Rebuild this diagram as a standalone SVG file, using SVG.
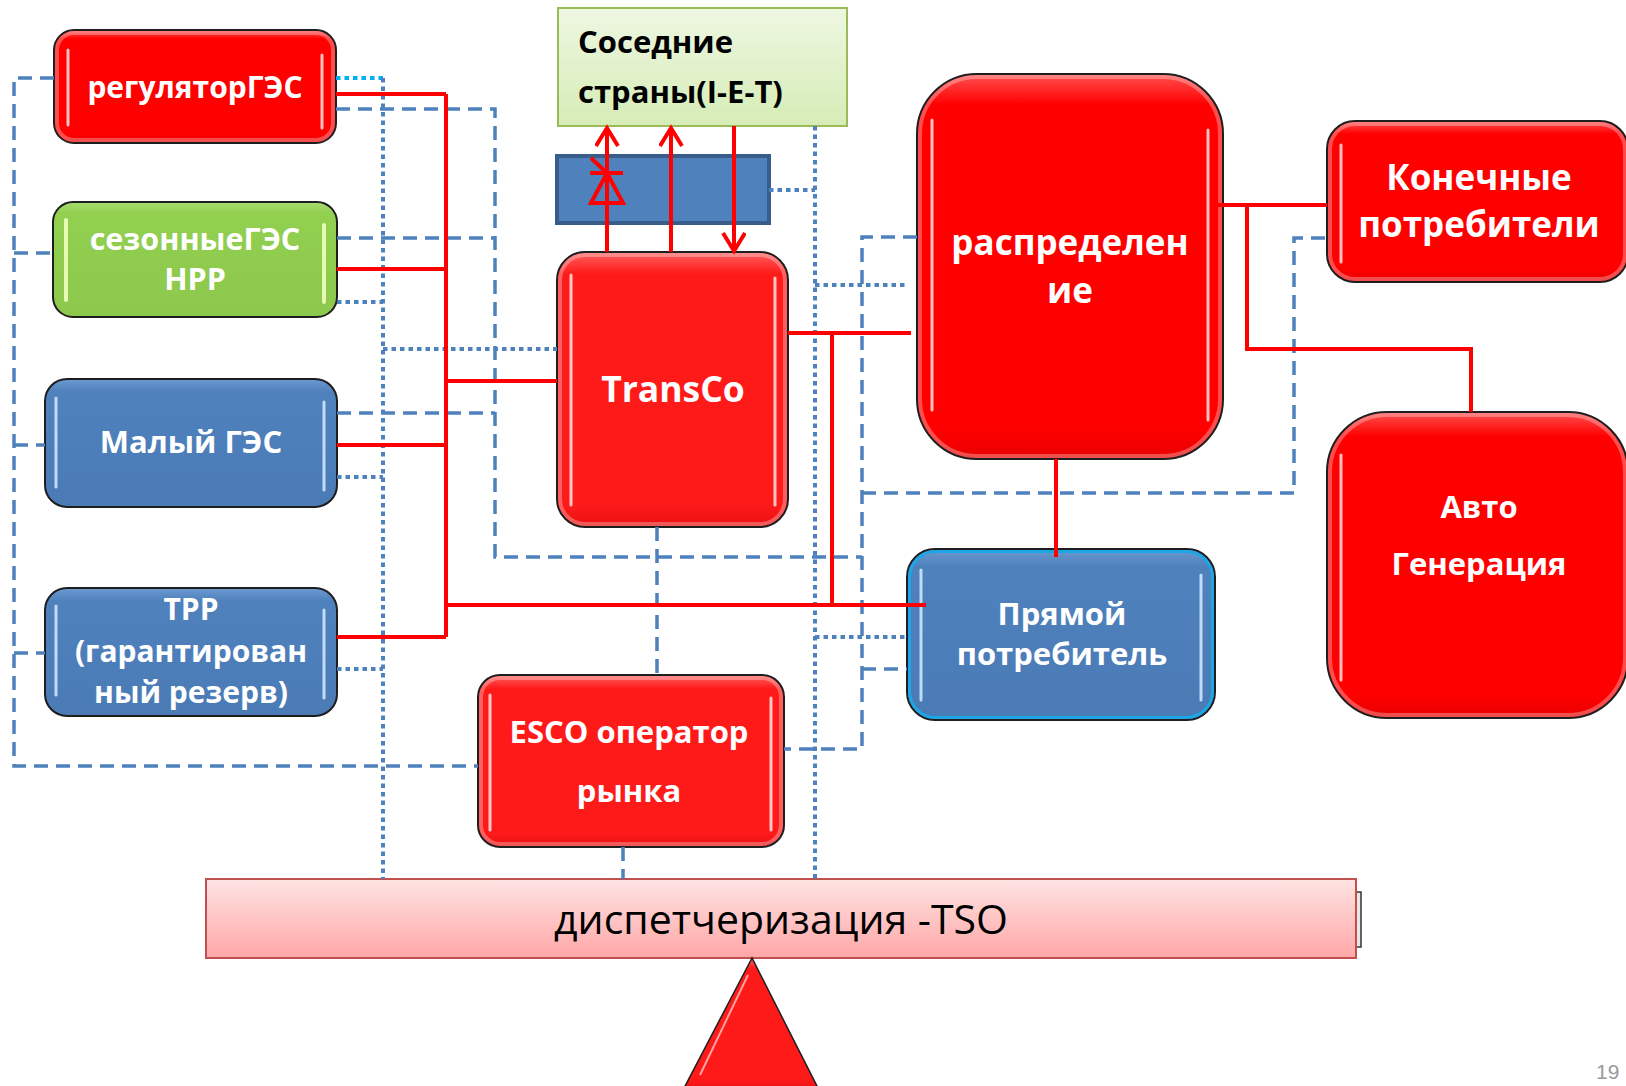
<svg xmlns="http://www.w3.org/2000/svg" width="1626" height="1086" viewBox="0 0 1626 1086">
<defs>
<style>
.box{stroke:#1e1e1e;stroke-width:2}
.red{fill:url(#gRed)}
.red2{fill:url(#gRed2)}
.green{fill:url(#gGreen)}
.blue{fill:url(#gBlue)}
.glow{fill:none;stroke:#fff;stroke-opacity:.3;stroke-width:4}
.hl{stroke:#fff;stroke-opacity:.75;stroke-width:3;stroke-linecap:round}
.hlg{stroke:#EFFFC0;stroke-opacity:.9;stroke-width:4;stroke-linecap:round}
.hlb{stroke:#CDE6FF;stroke-opacity:.9;stroke-width:3;stroke-linecap:round}
.wt{font-family:"Open Sans","Noto Sans",sans-serif;font-weight:700;fill:#fff;text-anchor:middle}
.bk{font-family:"Open Sans","Noto Sans",sans-serif;font-weight:700;fill:#000}
.dash{fill:none;stroke:#4F81BD;stroke-width:3.5;stroke-dasharray:14 8}
.dot{fill:none;stroke:#4F81BD;stroke-width:4;stroke-dasharray:4.5 4}
.rl{fill:none;stroke:#FF0000;stroke-width:4}
</style>
<linearGradient id="gRed" x1="0" y1="0" x2="0" y2="1">
<stop offset="0" stop-color="#FF5050"/><stop offset="0.08" stop-color="#FF0000"/><stop offset="0.92" stop-color="#FF0000"/><stop offset="1" stop-color="#E80000"/>
</linearGradient>
<linearGradient id="gRed2" x1="0" y1="0" x2="0" y2="1">
<stop offset="0" stop-color="#FF6060"/><stop offset="0.08" stop-color="#FF1A1A"/><stop offset="0.92" stop-color="#FF1A1A"/><stop offset="1" stop-color="#E81010"/>
</linearGradient>
<linearGradient id="gGreen" x1="0" y1="0" x2="0" y2="1">
<stop offset="0" stop-color="#A8DC70"/><stop offset="0.1" stop-color="#92D050"/><stop offset="1" stop-color="#8CC84C"/>
</linearGradient>
<linearGradient id="gBlue" x1="0" y1="0" x2="0" y2="1">
<stop offset="0" stop-color="#6D9AD0"/><stop offset="0.1" stop-color="#4F81BD"/><stop offset="1" stop-color="#4A7BB5"/>
</linearGradient>
<linearGradient id="gNb" x1="0" y1="0" x2="0" y2="1">
<stop offset="0" stop-color="#EEF7E2"/><stop offset="1" stop-color="#D6ECB6"/>
</linearGradient>
<linearGradient id="gTso" x1="0" y1="0" x2="0" y2="1">
<stop offset="0" stop-color="#FFE4E4"/><stop offset="1" stop-color="#FFA6A6"/>
</linearGradient>
<marker id="arr" markerUnits="userSpaceOnUse" markerWidth="26" markerHeight="26" refX="21" refY="12" orient="auto">
<path d="M3,1 L21,12 L3,23" fill="none" stroke="#FF0000" stroke-width="4"/>
</marker>
</defs>
<rect width="1626" height="1086" fill="#fff"/>

<g id="node-regulator">
<rect class="box red" x="54" y="30" width="282" height="113" rx="20"/>
<rect class="glow" x="57" y="33" width="276" height="107" rx="17"/>
<line class="hl" x1="68" y1="50" x2="68" y2="125"/><line class="hl" x1="322" y1="55" x2="322" y2="128"/>
<text class="wt" x="195" y="98" font-size="30">регуляторГЭС</text>
</g>
<g id="node-seasonal">
<rect class="box green" x="53" y="202" width="284" height="115" rx="20"/>
<line class="hlg" x1="66" y1="220" x2="66" y2="300"/><line class="hlg" x1="324" y1="225" x2="324" y2="302"/>
<text class="wt" x="195" y="250" font-size="30.5">сезонныеГЭС</text>
<text class="wt" x="195" y="290" font-size="30.5">HPP</text>
</g>
<g id="node-small">
<rect class="box blue" x="45" y="379" width="292" height="128" rx="22"/>
<line class="hlb" x1="56" y1="398" x2="56" y2="487"/><line class="hlb" x1="324" y1="402" x2="324" y2="490"/>
<text class="wt" x="191" y="453" font-size="31">Малый ГЭС</text>
</g>
<g id="node-tpp">
<rect class="box blue" x="45" y="588" width="292" height="128" rx="22"/>
<line class="hlb" x1="56" y1="606" x2="56" y2="695"/><line class="hlb" x1="324" y1="610" x2="324" y2="698"/>
<text class="wt" x="191" y="620" font-size="30">TPP</text>
<text class="wt" x="191" y="662" font-size="30">(гарантирован</text>
<text class="wt" x="191" y="703" font-size="30">ный резерв)</text>
</g>
<g id="node-neighbors">
<rect x="558" y="8" width="289" height="118" fill="url(#gNb)" stroke="#9BBB59" stroke-width="2"/>
<text class="bk" x="578" y="53" font-size="31">Соседние</text>
<text class="bk" x="578" y="103" font-size="31">страны(I-E-T)</text>
</g>
<g id="node-converter">
<rect x="557" y="156" width="212" height="67" fill="#4F81BD" stroke="#385D8A" stroke-width="4"/>
</g>
<g id="node-transco">
<rect class="box red2" x="557" y="252" width="231" height="275" rx="28"/>
<rect class="glow" x="560" y="255" width="225" height="269" rx="25"/>
<line class="hl" x1="571" y1="275" x2="571" y2="505"/><line class="hl" x1="775" y1="278" x2="775" y2="505"/>
<text class="wt" x="673" y="402" font-size="35.5">TransCo</text>
</g>
<g id="node-distribution">
<rect class="box red" x="917" y="74" width="306" height="385" rx="60"/>
<rect class="glow" x="920" y="77" width="300" height="379" rx="57"/>
<line class="hl" x1="932" y1="120" x2="932" y2="410"/><line class="hl" x1="1208" y1="130" x2="1208" y2="420"/>
<text class="wt" x="1070" y="255" font-size="35">распределен</text>
<text class="wt" x="1070" y="303" font-size="35">ие</text>
</g>
<g id="node-endconsumers">
<rect class="box red" x="1327" y="121" width="301" height="161" rx="28"/>
<rect class="glow" x="1330" y="124" width="295" height="155" rx="25"/>
<line class="hl" x1="1341" y1="145" x2="1341" y2="262"/>
<text class="wt" x="1479" y="190" font-size="35">Конечные</text>
<text class="wt" x="1479" y="237" font-size="35">потребители</text>
</g>
<g id="node-autogen">
<rect class="box red" x="1327" y="412" width="301" height="306" rx="60"/>
<rect class="glow" x="1330" y="415" width="295" height="300" rx="57"/>
<line class="hl" x1="1341" y1="455" x2="1341" y2="680"/>
<text class="wt" x="1479" y="518" font-size="31">Авто</text>
<text class="wt" x="1479" y="575" font-size="31">Генерация</text>
</g>
<g id="node-direct">
<rect x="907" y="549" width="308" height="171" rx="28" fill="url(#gBlue)" stroke="#1e1e1e" stroke-width="2"/>
<rect x="909.5" y="551.5" width="303" height="166" rx="26" fill="none" stroke="#1EA5E6" stroke-width="3"/>
<line class="hlb" x1="921" y1="570" x2="921" y2="700"/><line class="hlb" x1="1201" y1="575" x2="1201" y2="700"/>
<text class="wt" x="1062" y="625" font-size="31">Прямой</text>
<text class="wt" x="1062" y="665" font-size="31">потребитель</text>
</g>
<g id="node-esco">
<rect class="box red2" x="478" y="675" width="306" height="172" rx="22"/>
<rect class="glow" x="481" y="678" width="300" height="166" rx="19"/>
<line class="hl" x1="490" y1="695" x2="490" y2="830"/><line class="hl" x1="771" y1="698" x2="771" y2="830"/>
<text class="wt" x="629" y="743" font-size="31">ESCO оператор</text>
<text class="wt" x="629" y="802" font-size="31">рынка</text>
</g>
<g id="node-tso">
<rect x="1356" y="892" width="5" height="55" fill="#e8e8e8" stroke="#333" stroke-width="1.5"/>
<rect x="206" y="879" width="1150" height="79" fill="url(#gTso)" stroke="#C0504D" stroke-width="2"/>
<text x="781" y="934" font-family="'Open Sans','Noto Sans',sans-serif" font-size="41" fill="#000" text-anchor="middle">диспетчеризация -TSO</text>
</g>
<g id="node-triangle">
<polygon points="752,958 683,1090 819,1090" fill="url(#gRed2)" stroke="#1e1e1e" stroke-width="1.5"/>
<line x1="748" y1="975" x2="700" y2="1075" stroke="#fff" stroke-opacity=".6" stroke-width="2"/>
</g>
<text x="1596" y="1079" font-family="'Liberation Sans',sans-serif" font-size="21" fill="#999">19</text>

<g id="connectors">
<path class="dash" d="M54,78 H14 V766 H478"/>
<path class="dash" d="M14,253 H53 M14,445 H45 M14,653 H45"/>
<path class="dash" d="M336,109 H495 V557 H862"/>
<path class="dash" d="M337,238 H495 M337,413 H495"/>
<path class="dash" d="M917,237 H862 V749 H784"/>
<path class="dash" d="M862,493 H1294 V238 H1327"/>
<path class="dash" d="M862,669 H907"/>
<path class="dash" d="M657,527 V675"/>
<path class="dash" d="M623,847 V879"/>
<path class="dot" d="M336,78 H383" style="stroke:#00B0F0"/>
<path class="dot" d="M383,78 V879"/>
<path class="dot" d="M337,302 H383 M337,477 H383 M337,669 H383 M383,349 H557"/>
<path class="dot" d="M815,126 V879"/>
<path class="dot" d="M769,190 H815 M815,285 H905 M815,637 H907"/>
<path class="rl" d="M446,94 V637"/>
<path class="rl" d="M336,94 H446 M337,269 H446 M337,445 H446 M337,637 H446 M446,381 H557 M446,605 H926"/>
<path class="rl" d="M788,333 H911 M832,333 V605"/>
<path class="rl" d="M1215,205 H1327 M1247,205 V349 H1471 V412"/>
<path class="rl" d="M1056,459 V557"/>
<path class="rl" d="M607,252 V128" marker-end="url(#arr)"/>
<path class="rl" d="M671,252 V128" marker-end="url(#arr)"/>
<path class="rl" d="M734,126 V251" marker-end="url(#arr)"/>
<path class="rl" d="M590,173 H623 M607,173 L591,203 H623 Z M591,158 L609,175"/>
</g>
</svg>
